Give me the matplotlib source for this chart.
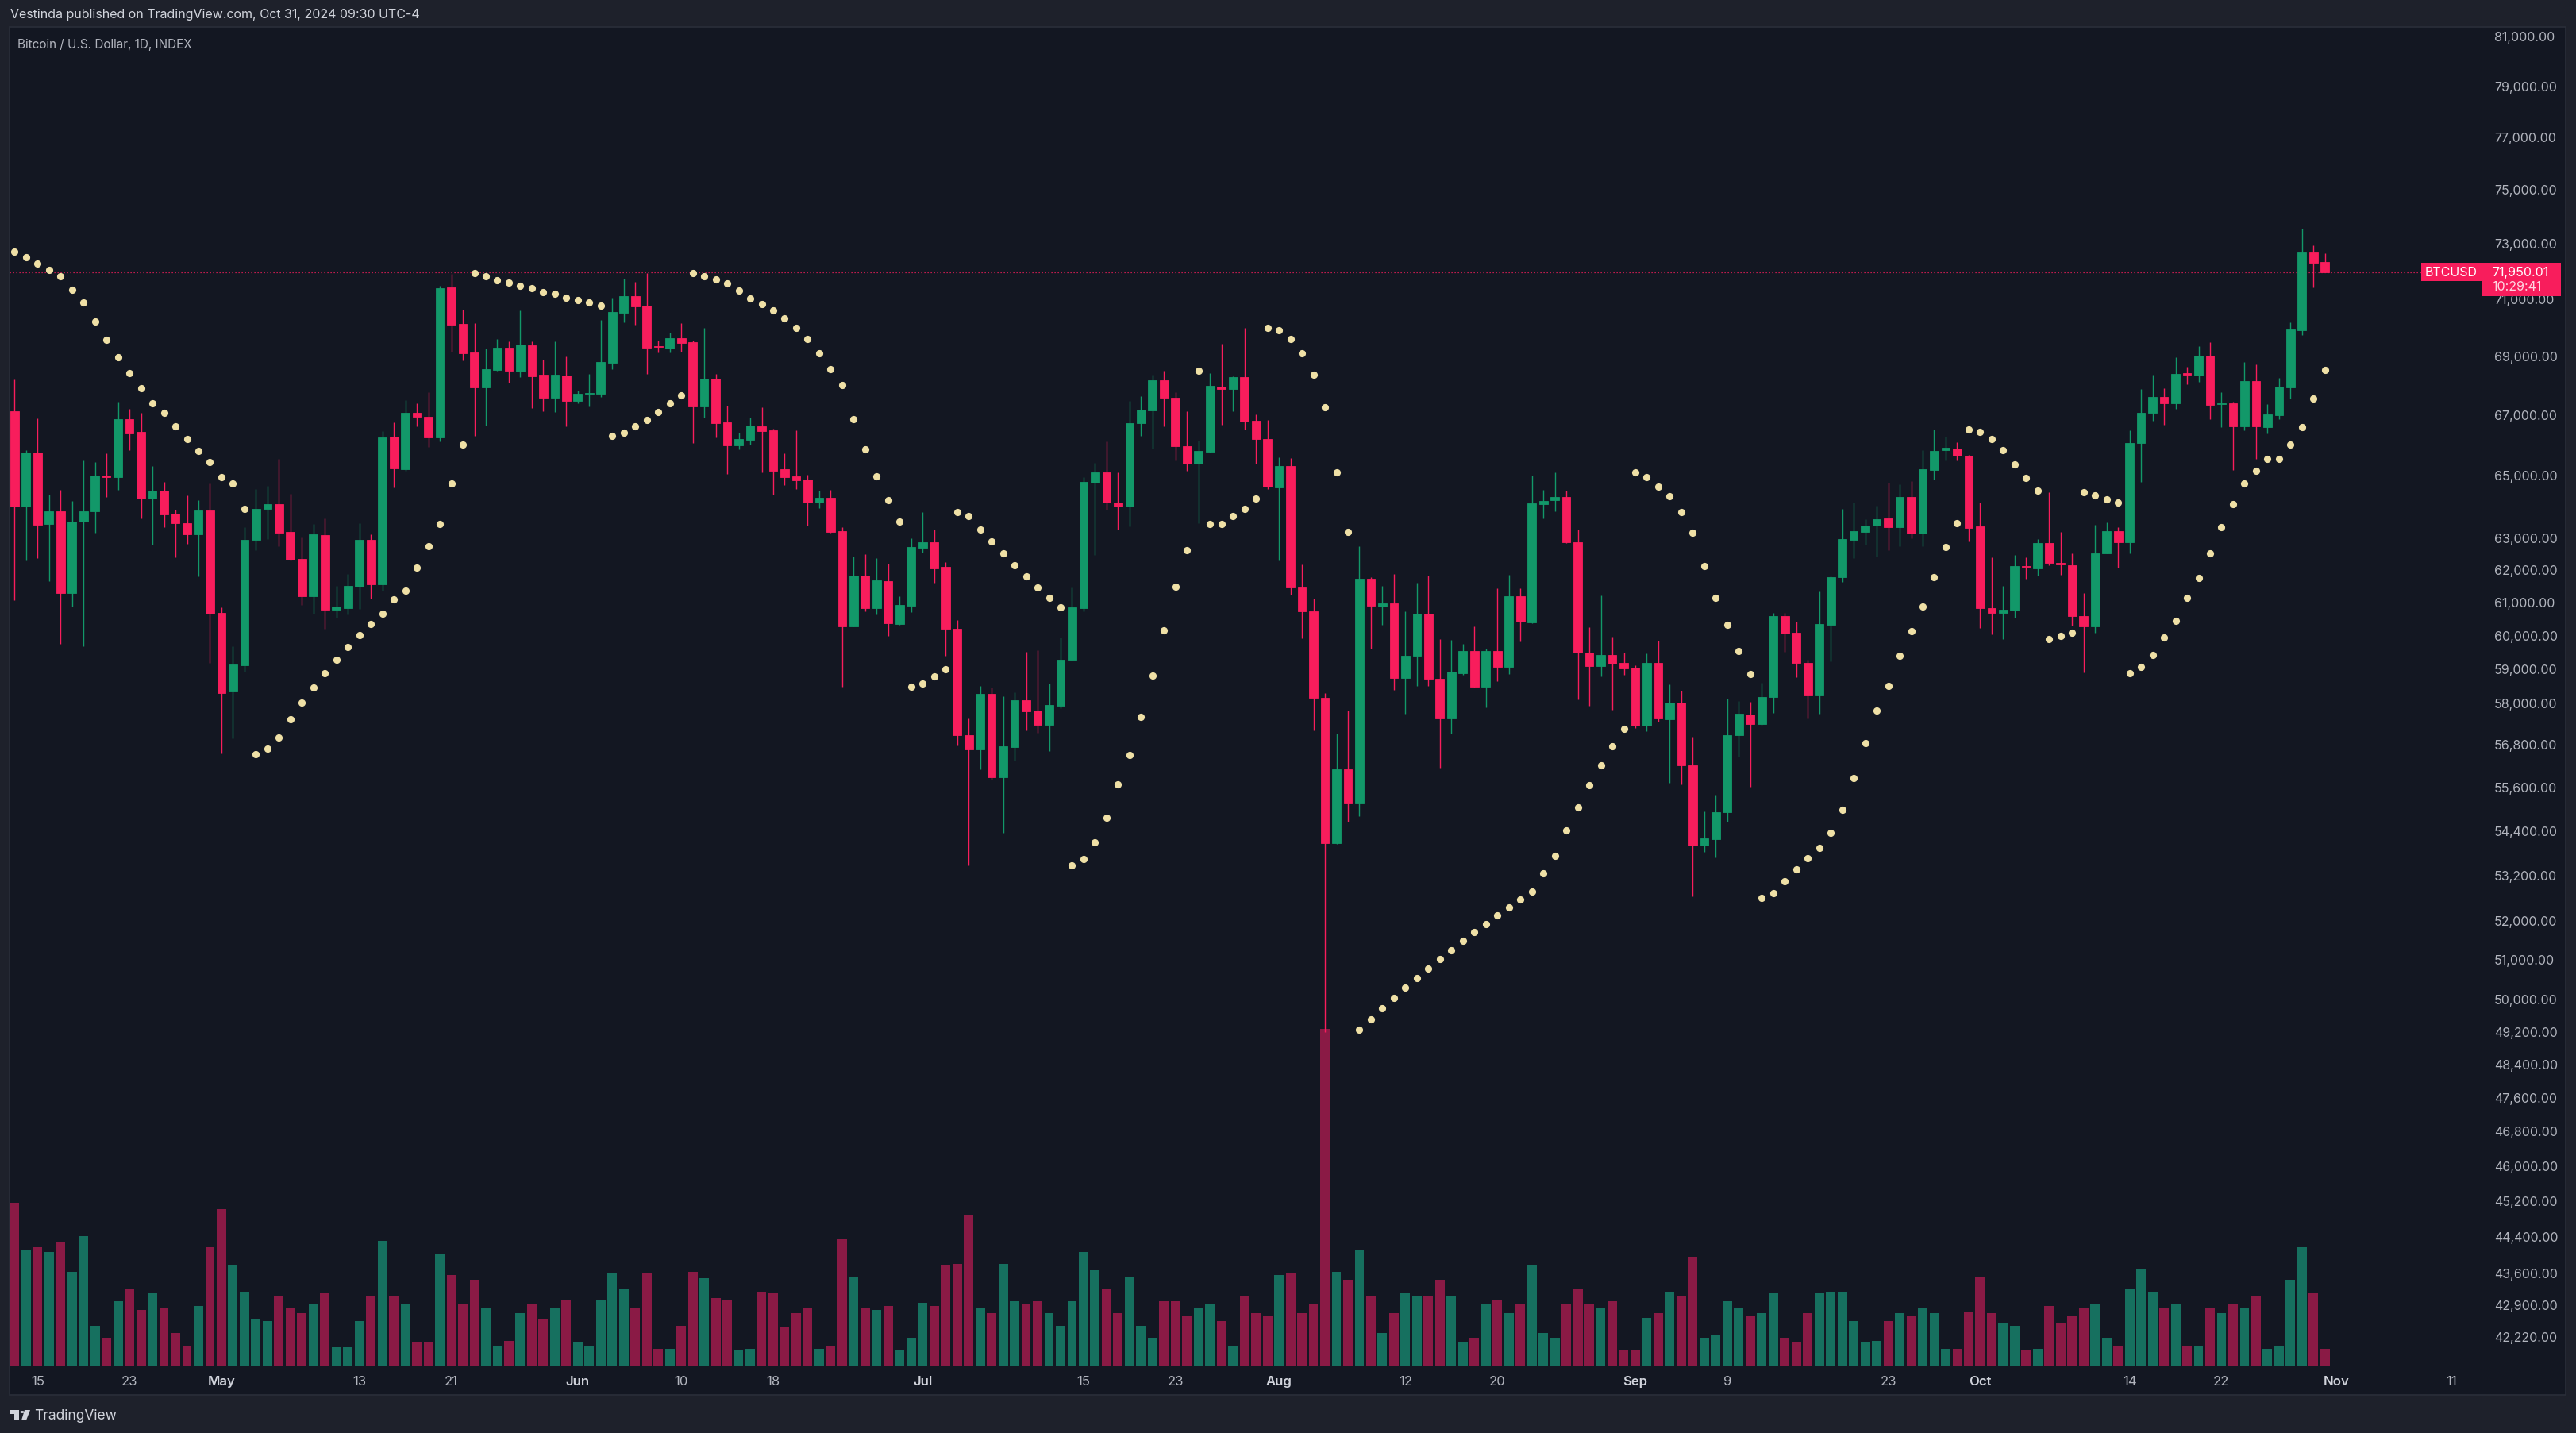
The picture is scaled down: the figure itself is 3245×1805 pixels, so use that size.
import numpy as np
import pandas as pd
import matplotlib

matplotlib.use("Agg")
import matplotlib.pyplot as plt
from matplotlib.patches import Rectangle, Polygon, Circle
from matplotlib.ticker import NullLocator

# canvas size in pixels (dpi 100)
W, H = 3245, 1806
DPI = 100

# daily candles, first one is 2024-04-13 (INDEX:BTCUSD, 1D)
start_date = "2024-04-13"

opens = [
    67111, 63979, 65733, 63427, 63826, 61254, 63493, 63815, 64990, 64931,
    66847, 66406, 64240, 64494, 63750, 63450, 63106, 63858, 60656, 58312,
    59100, 62914, 63892, 64052, 63171, 62326, 61172, 63081, 60768, 60816,
    61469, 62919, 61538, 66270, 65199, 67063, 66921, 66239, 71403, 70102,
    69103, 67911, 68512, 69279, 68447, 69360, 68350, 67563, 68322, 67456,
    67697, 67706, 68764, 70498, 71090, 70751, 69330, 69257, 69609, 69471,
    67278, 68214, 66731, 65980, 66155, 66598, 66465, 65176, 64954, 64852,
    64113, 64266, 63196, 60259, 61811, 60811, 61632, 60326, 60878, 62672,
    62842, 62075, 60182, 57066, 56655, 58252, 55865, 56717, 58067, 57771,
    57358, 57908, 59248, 60806, 64758, 65071, 64108, 63970, 66699, 67146,
    68157, 67554, 65946, 65360, 65755, 67950, 67871, 68266, 66783, 66182,
    64603, 65298, 61427, 60716, 58139, 54057, 56087, 55138, 61715, 60857,
    60958, 58723, 59370, 60632, 58695, 57542, 58858, 59510, 58449, 59510,
    59041, 61170, 60374, 64068, 64179, 64273, 62849, 59475, 59055, 59387,
    59166, 59012, 57322, 59166, 57510, 57989, 56197, 53984, 54170, 54899,
    57052, 57651, 57369, 58150, 60558, 60051, 59168, 58213, 60302, 61759,
    62932, 63171, 63364, 63596, 63334, 64292, 63130, 65161, 65810, 65873,
    65634, 63354, 60806, 60654, 60738, 62100, 62031, 62825, 62190, 62115,
    60575, 60257, 62505, 63193, 62855, 66047, 67052, 67592, 67363, 68390,
    68328, 68993, 67360, 67363, 66592, 68123, 66563, 66983, 67919, 69884,
    72658, 72301,
]
highs = [
    68189, 65824, 66871, 64363, 64514, 64166, 65466, 65409, 65712, 67427,
    67190, 67052, 65298, 64768, 63880, 64340, 64186, 64712, 60823, 59645,
    63324, 64537, 64634, 65526, 64394, 62998, 63412, 63606, 61489, 61842,
    63442, 63091, 66430, 66742, 67478, 67371, 67760, 71449, 71883, 70608,
    70127, 69235, 69582, 69504, 70575, 69490, 68856, 69499, 68965, 67806,
    68369, 70238, 71033, 71706, 71600, 71914, 69527, 69802, 70135, 69527,
    69960, 68385, 67289, 66385, 66890, 67243, 66535, 65712, 66470, 65017,
    64481, 64522, 63324, 62403, 62472, 62354, 62174, 61158, 62976, 63803,
    63246, 62213, 60432, 57537, 58479, 58433, 58189, 58298, 59482, 59536,
    58555, 59912, 61439, 64919, 65390, 66088, 65094, 67446, 67613, 68353,
    68490, 67763, 67108, 66124, 68403, 69416, 68304, 69980, 66999, 66807,
    65576, 65560, 62146, 61098, 58275, 57106, 57771, 62714, 61745, 61487,
    61860, 60702, 61573, 61803, 59871, 59857, 59717, 60249, 59592, 61412,
    61817, 61412, 64980, 64524, 65084, 64497, 63242, 60235, 61196, 59947,
    59475, 59088, 59449, 59826, 58530, 58346, 57018, 54914, 55350, 58099,
    58048, 58013, 58576, 60671, 60671, 60399, 59243, 61321, 61790, 63892,
    64110, 63565, 64007, 64744, 64703, 64806, 65813, 66496, 66252, 66062,
    65650, 64100, 62368, 61489, 62457, 62378, 62949, 64435, 63166, 62505,
    61255, 63402, 63468, 63324, 66462, 67847, 68339, 67887, 68940, 68615,
    69323, 69460, 67746, 67414, 68786, 68704, 67342, 68236, 70168, 73536,
    72919, 72635,
]
lows = [
    61049, 62285, 62336, 61643, 59716, 60852, 59645, 63139, 64273, 64514,
    65824, 63588, 62762, 63310, 62378, 62805, 61790, 59152, 56534, 56970,
    58890, 62592, 62957, 62728, 62280, 60903, 60640, 60184, 60515, 60611,
    60787, 61095, 61351, 64599, 65137, 66603, 65905, 66103, 69136, 68847,
    66281, 66624, 68490, 68085, 68250, 67217, 67111, 67084, 66613, 67384,
    67278, 67590, 68539, 70163, 70080, 68385, 69111, 69111, 69147, 66059,
    66906, 66226, 65024, 65834, 66006, 65092, 64350, 64678, 64542, 63375,
    63938, 63150, 58461, 60240, 60706, 60607, 59968, 60300, 60677, 62512,
    61582, 59377, 56764, 53462, 56089, 55794, 54339, 56330, 57204, 57122,
    56607, 57825, 59230, 60720, 62452, 63876, 63258, 63346, 66278, 65851,
    66603, 65478, 65126, 63459, 65740, 66664, 67098, 66494, 65360, 64537,
    62277, 61211, 59897, 57197, 49175, 54031, 54627, 54780, 59581, 60293,
    58355, 57676, 58477, 58490, 56138, 57106, 58818, 58430, 57865, 58614,
    58832, 59801, 60350, 63605, 63835, 62830, 58081, 57912, 58753, 57778,
    58804, 57263, 57181, 57454, 55714, 55671, 52622, 53813, 53674, 54636,
    56441, 55591, 57350, 57692, 59501, 58732, 57526, 57662, 59196, 61609,
    62348, 62770, 62408, 62597, 62728, 62962, 62708, 64857, 65467, 65478,
    62881, 60206, 60013, 59878, 60515, 61717, 61815, 62135, 61837, 60286,
    58875, 60049, 62487, 62061, 62487, 64762, 66781, 66643, 67183, 68011,
    68093, 66842, 66563, 65160, 66462, 65530, 66361, 66842, 67542, 69718,
    71400, 71940,
]
closes = [
    63979, 65733, 63395, 63826, 61276, 63503, 63826, 64985, 64930, 66847,
    66371, 64240, 64494, 63729, 63437, 63106, 63858, 60637, 58282, 59121,
    62924, 63902, 64055, 63151, 62297, 61172, 63101, 60755, 60845, 61489,
    62919, 61538, 66229, 65220, 67063, 66911, 66239, 71365, 70080, 69081,
    67911, 68534, 69279, 68469, 69378, 68303, 67563, 68350, 67456, 67697,
    67733, 68783, 70526, 71090, 70723, 69285, 69290, 69609, 69443, 67278,
    68214, 66720, 65980, 66174, 66624, 66454, 65137, 64934, 64831, 64095,
    64266, 63176, 60259, 61811, 60811, 61661, 60355, 60907, 62692, 62842,
    62036, 60172, 57057, 56655, 58252, 55865, 56744, 58069, 57750, 57358,
    57929, 59248, 60828, 64768, 65071, 64098, 63970, 66712, 67170, 68157,
    67564, 65933, 65360, 65792, 67957, 67850, 68266, 66770, 66182, 64616,
    65298, 61427, 60702, 58139, 54057, 56087, 55138, 61715, 60872, 60944,
    58723, 59370, 60632, 58695, 57542, 58900, 59510, 58449, 59510, 59041,
    61170, 60392, 64088, 64160, 64273, 62849, 59456, 59055, 59387, 59124,
    58988, 57338, 59166, 57529, 57989, 56197, 53984, 54187, 54905, 57059,
    57676, 57369, 58157, 60558, 60032, 59149, 58213, 60322, 61750, 62949,
    63190, 63374, 63576, 63334, 64292, 63130, 65181, 65790, 65894, 65624,
    63302, 60806, 60654, 60759, 62090, 62070, 62830, 62189, 62160, 60575,
    60257, 62487, 63193, 62855, 66057, 67063, 67592, 67363, 68369, 68350,
    68993, 67331, 67380, 66592, 68123, 66592, 66991, 67938, 69906, 72658,
    72290, 71950.01,
]
# volume, relative units
volumes = [
    99, 70, 72, 69, 75, 57, 79, 24, 17, 39,
    47, 34, 44, 35, 20, 12, 36, 72, 95, 61,
    45, 28, 27, 42, 35, 32, 37, 44, 11, 11,
    27, 42, 76, 42, 37, 14, 14, 68, 55, 37,
    52, 35, 12, 15, 32, 37, 28, 35, 40, 14,
    12, 40, 56, 47, 35, 56, 10, 10, 24, 57,
    53, 41, 40, 9, 10, 45, 44, 23, 32, 35,
    10, 12, 77, 54, 35, 34, 36, 9, 17, 38,
    36, 61, 62, 92, 35, 32, 62, 39, 37, 39,
    32, 24, 39, 69, 58, 47, 32, 54, 24, 17,
    39, 39, 30, 35, 37, 27, 12, 42, 32, 30,
    55, 56, 32, 37, 205, 57, 52, 70, 42, 20,
    32, 44, 42, 42, 52, 42, 14, 17, 37, 40,
    32, 37, 61, 20, 17, 37, 47, 37, 35, 39,
    9, 9, 29, 32, 45, 42, 66, 17, 19, 39,
    35, 30, 32, 44, 17, 14, 32, 44, 45, 45,
    27, 14, 15, 27, 32, 30, 35, 32, 10, 10,
    33, 54, 32, 26, 24, 9, 10, 36, 26, 30,
    35, 37, 17, 12, 47, 59, 45, 35, 37, 12,
    12, 35, 32, 37, 35, 42, 10, 12, 52, 72,
    44, 10,
]
# parabolic SAR dots as they appear on the chart
sar = [
    72700, 72478, 72256, 72023, 71789, 71304, 70858, 70185, 69545, 68932,
    68398, 67877, 67371, 67052, 66597, 66168, 65777, 65422, 64919, 64711,
    63903, 56506, 56679, 56986, 57506, 57987, 58434, 58844, 59253, 59621,
    59982, 60321, 60630, 61066, 61332, 62061, 62708, 63413, 64714, 65988,
    71906, 71791, 71667, 71565, 71451, 71367, 71242, 71169, 71044, 70960,
    70858, 70761, 66278, 66385, 66597, 66810, 67092, 67385, 67651, 71906,
    71791, 71678, 71554, 71282, 71016, 70801, 70574, 70302, 69970, 69582,
    69084, 68538, 67993, 66842, 65837, 64954, 64185, 63500, 58457, 58552,
    58756, 58974, 63803, 63671, 63247, 62866, 62492, 62125, 61781, 61439,
    61119, 60835, 53449, 53622, 54070, 54745, 55661, 56486, 57583, 58788,
    60127, 61461, 62590, 68474, 63418, 63418, 63668, 63901, 64246, 69980,
    69883, 69576, 69072, 68341, 67233, 65070, 63172, 49240, 49494, 49761,
    50015, 50284, 50520, 50768, 51006, 51220, 51473, 51701, 51907, 52135,
    52343, 52552, 52760, 53238, 53712, 54398, 55025, 55639, 56198, 56736,
    57238, 65075, 64916, 64609, 64302, 63790, 63142, 62091, 61126, 60295,
    59508, 58830, 52589, 52712, 53024, 53339, 53639, 53924, 54344, 54959,
    55844, 56822, 57766, 58473, 59366, 60110, 60854, 61746, 62688, 63455,
    66497, 66411, 66166, 65811, 65338, 64898, 64486, 59871, 59959, 60049,
    64435, 64340, 64205, 64108, 58856, 59035, 59399, 59914, 60420, 61110,
    61727, 62487, 63317, 64059, 64714, 65131, 65516, 65516, 65986, 66570,
    67523, 68501,
]

# time axis labels
tick_dates = [
    "2024-04-15", "2024-04-23", "2024-05-01", "2024-05-13", "2024-05-21",
    "2024-06-01", "2024-06-10", "2024-06-18", "2024-07-01", "2024-07-15",
    "2024-07-23", "2024-08-01", "2024-08-12", "2024-08-20", "2024-09-01",
    "2024-09-09", "2024-09-23", "2024-10-01", "2024-10-14", "2024-10-22",
    "2024-11-01", "2024-11-11",
]
tick_labels = [
    "15", "23", "May", "13", "21", "Jun", "10", "18", "Jul", "15", "23",
    "Aug", "12", "20", "Sep", "9", "23", "Oct", "14", "22", "Nov", "11",
]
month_names = ["May", "Jun", "Jul", "Aug", "Sep", "Oct", "Nov"]

# price scale labels (log scale)
price_ticks = [
    81000, 79000, 77000, 75000, 73000, 71000, 69000, 67000, 65000, 63000,
    62000, 61000, 60000, 59000, 58000, 56800, 55600, 54400, 53200, 52000,
    51000, 50000, 49200, 48400, 47600, 46800, 46000, 45200, 44400, 43600,
    42900, 42220,
]

symbol = "BTCUSD"
last_price = closes[-1]
countdown = "10:29:41"
header = "Vestinda published on TradingView.com, Oct 31, 2024 09:30 UTC-4"
legend_title = "Bitcoin / U.S. Dollar, 1D, INDEX"

# colours (TradingView dark theme)
OUTER = "#1e212b"
BG = "#131722"
BORDER = "#2a2e39"
UP = "#129869"
DOWN = "#f81d5c"
VOL_UP = "#16705f"
VOL_DOWN = "#8a1a45"
SAR_COL = "#efe0a6"
TXT = "#d1d4dc"
TXT_DIM = "#b2b5be"

plt.rcParams["font.family"] = ["Inter", "DejaVu Sans"]

x = np.arange(len(closes))
o = np.array(opens, dtype=float)
c = np.array(closes, dtype=float)
up = c >= o

fig = plt.figure(figsize=(W / DPI, H / DPI), dpi=DPI, facecolor=OUTER)


def fx(px):
    return px / W


def fy(py):
    # py measured from the top of the picture
    return 1 - py / H


# dark chart panel with thin border
fig.patches.append(
    Rectangle((fx(12), fy(1758)), fx(3232 - 12), (1758 - 35) / H,
              transform=fig.transFigure, facecolor=BG, edgecolor=BORDER,
              linewidth=1.2, zorder=-10)
)

rect = [fx(12), fy(1721), fx(3124 - 12), (1721 - 35) / H]
x_lo, x_hi = -0.435, 214.48

# volume pane sits underneath the price pane
ax_vol = fig.add_axes(rect)
ax_vol.patch.set_visible(False)
ax_vol.bar(x, volumes, width=0.82, color=np.where(up, VOL_UP, VOL_DOWN), linewidth=0)
ax_vol.set_xlim(x_lo, x_hi)
ax_vol.set_ylim(0, 814.7)
ax_vol.axis("off")

ax = fig.add_axes(rect)
ax.patch.set_visible(False)
ax.set_yscale("log")
ax.set_xlim(x_lo, x_hi)
ax.set_ylim(41610, 81347)

cols = np.where(up, UP, DOWN)
ax.vlines(x, lows, highs, colors=cols, linewidth=1.0, zorder=2)
ax.bar(x, np.abs(c - o), bottom=np.minimum(o, c), width=0.74, color=cols,
       edgecolor=cols, linewidth=0.6, zorder=3)

# parabolic SAR
ax.plot(x, sar, "o", markersize=6.6, color=SAR_COL, markeredgewidth=0, zorder=4)

# last price line
ax.axhline(last_price, xmin=0, xmax=(3050 - 12) / (3124 - 12), color=DOWN,
           linestyle=(0, (1, 2.2)), linewidth=0.9, zorder=1)

for s in ax.spines.values():
    s.set_visible(False)

# price scale on the right
ax.yaxis.tick_right()
ax.yaxis.set_minor_locator(NullLocator())
ax.set_yticks(price_ticks, labels=[f"{p:,.2f}" for p in price_ticks])
ax.tick_params(axis="y", length=0, pad=13, labelsize=11.5, labelcolor=TXT_DIM)

# time scale
start = pd.Timestamp(start_date)
tick_pos = [(pd.Timestamp(d) - start).days for d in tick_dates]
ax.set_xticks(tick_pos, labels=tick_labels)
ax.tick_params(axis="x", length=0, pad=9, labelsize=12, labelcolor=TXT_DIM)
for lab in ax.get_xticklabels():
    if lab.get_text() in month_names:
        lab.set_color(TXT)
        lab.set_fontweight("semibold")

# symbol / price / countdown labels on the price scale
y_last = H - ax.transData.transform((0, last_price))[1]
fig.patches.append(
    Rectangle((fx(3050), fy(y_last + 11.5)), fx(76), 23 / H, transform=fig.transFigure,
              facecolor=DOWN, edgecolor="none", zorder=5)
)
fig.patches.append(
    Rectangle((fx(3127), fy(y_last + 30.5)), fx(99), 42 / H, transform=fig.transFigure,
              facecolor=DOWN, edgecolor="none", zorder=5)
)
fig.text(fx(3088), fy(y_last), symbol, color="white", fontsize=11.5,
         ha="center", va="center", zorder=6)
fig.text(fx(3139), fy(y_last), f"{last_price:,.2f}", color="white", fontsize=11.5,
         ha="left", va="center", zorder=6)
fig.text(fx(3139), fy(y_last + 18), countdown, color="#ffd6e1", fontsize=11.5,
         ha="left", va="center", zorder=6)

# header texts
fig.text(fx(13), fy(19), header, color=TXT, fontsize=11.5, ha="left", va="center")
fig.text(fx(22), fy(56), legend_title, color=TXT_DIM, fontsize=11, ha="left", va="center")

# TradingView logo at the bottom
fig.patches.append(Rectangle((fx(13), fy(1782)), fx(11), 5 / H, transform=fig.transFigure,
                             facecolor=TXT, edgecolor="none"))
fig.patches.append(Rectangle((fx(18), fy(1790)), fx(6), 13 / H, transform=fig.transFigure,
                             facecolor=TXT, edgecolor="none"))
fig.patches.append(Circle((fx(28), fy(1779.5)), 2.6 / W, transform=fig.transFigure,
                          facecolor=TXT, edgecolor="none"))
fig.patches.append(Polygon([(fx(31), fy(1777)), (fx(38), fy(1777)), (fx(33), fy(1790)),
                            (fx(27), fy(1790))], closed=True, transform=fig.transFigure,
                           facecolor=TXT, edgecolor="none"))
fig.text(fx(43), fy(1784), "TradingView", color=TXT, fontsize=12.5, ha="left", va="center")

fig.savefig("out.png", dpi=DPI, facecolor=OUTER)
